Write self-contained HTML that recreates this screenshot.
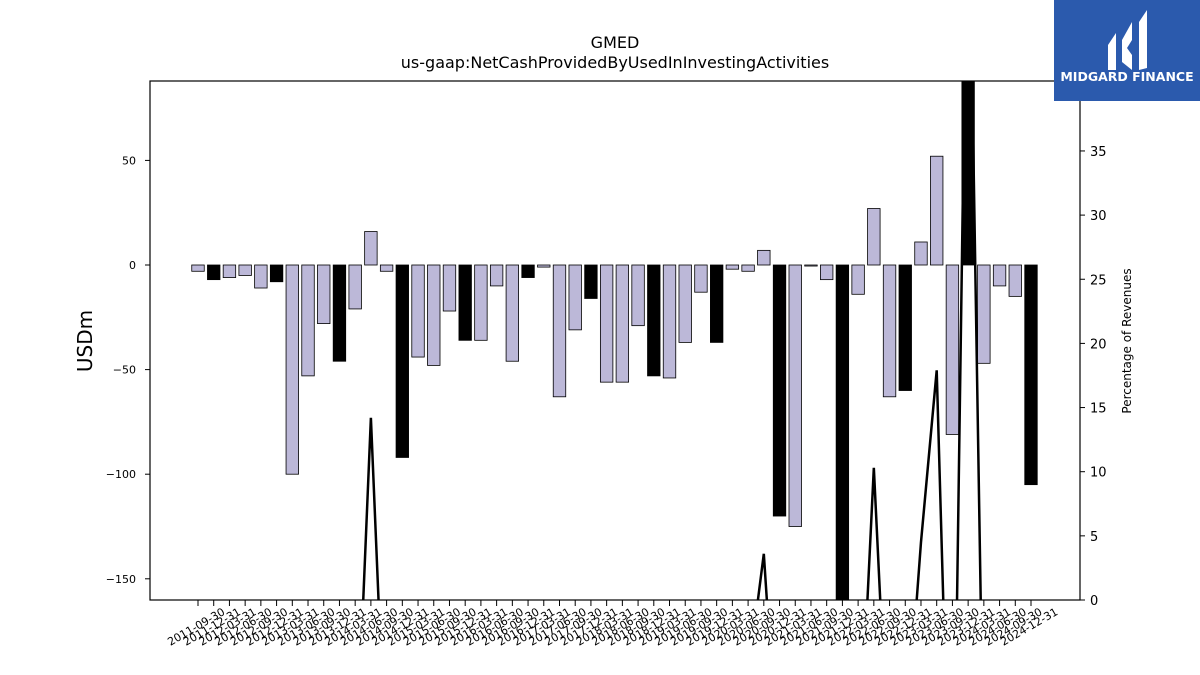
<!DOCTYPE html>
<html><head><meta charset="utf-8"><style>
html,body{margin:0;background:#fff;width:1200px;height:675px;overflow:hidden;font-family:"DejaVu Sans","Liberation Sans",sans-serif}
svg{display:block}
</style></head><body>
<svg id="chart" width="1200" height="675" xmlns="http://www.w3.org/2000/svg" font-family="DejaVu Sans, Liberation Sans, sans-serif">
<defs><clipPath id="pc"><rect x="150" y="81" width="930" height="519"/></clipPath></defs>
<text x="615" y="48" text-anchor="middle" font-size="16">GMED</text>
<text x="615" y="68" text-anchor="middle" font-size="16">us-gaap:NetCashProvidedByUsedInInvestingActivities</text>
<g id="bars" clip-path="url(#pc)"></g>
<g id="line" clip-path="url(#pc)"></g>
<rect x="150" y="81" width="930" height="519" fill="none" stroke="#000" stroke-width="1.2"/>
<g id="yleft"></g><g id="yright"></g><g id="xaxis"></g>
<text transform="translate(92,341) rotate(-90)" text-anchor="middle" font-size="20">USDm</text>
<text transform="translate(1131,341) rotate(-90)" text-anchor="middle" font-size="12">Percentage of Revenues</text>
<g>
<rect x="1054" y="0" width="146" height="101" fill="#2b5aad"/>
<path d="M1108 45 L1116 33 L1116 70 L1108 70 Z M1122 40 L1132 22 L1132 40 L1127 48 L1132 55 L1132 70 L1122 62 Z M1139 22 L1147 10 L1147 68 L1139 70 Z" fill="#fff"/>
<text x="1127" y="81" text-anchor="middle" font-size="12.5" font-weight="bold" fill="#fff">MIDGARD FINANCE</text>
</g>
</svg>
<script>
const dates=["2011-09-30","2011-12-31","2012-03-31","2012-06-30","2012-09-30","2012-12-31","2013-03-31","2013-06-30","2013-09-30","2013-12-31","2014-03-31","2014-06-30","2014-09-30","2014-12-31","2015-03-31","2015-06-30","2015-09-30","2015-12-31","2016-03-31","2016-06-30","2016-09-30","2016-12-31","2017-03-31","2017-06-30","2017-09-30","2017-12-31","2018-03-31","2018-06-30","2018-09-30","2018-12-31","2019-03-31","2019-06-30","2019-09-30","2019-12-31","2020-03-31","2020-06-30","2020-09-30","2020-12-31","2021-03-31","2021-06-30","2021-09-30","2021-12-31","2022-03-31","2022-06-30","2022-09-30","2022-12-31","2023-03-31","2023-06-30","2023-09-30","2023-12-31","2024-03-31","2024-06-30","2024-09-30","2024-12-31"];
const cashValues=[-3,-7,-6,-5,-11,-8,-100,-53,-28,-46,-21,16,-3,-92,-44,-48,-22,-36,-36,-10,-46,-6,-1,-63,-31,-16,-56,-56,-29,-53,-54,-37,-13,-37,-2,-3,7,-120,-125,-0.5,-7,-200,-14,27,-63,-60,11,52,-81,120,-47,-10,-15,-105];
const pctValues=[-15,-15,-15,-15,-15,-15,-15,-15,-15,-15,-15,14.2,-15,-15,-15,-15,-15,-15,-15,-15,-15,-15,-15,-15,-15,-15,-15,-15,-15,-15,-15,-15,-15,-15,-15,-6,3.6,-15,-15,-15,-15,-15,-15,10.3,-15,-12,4.5,17.9,-25,60,-15,-15,-15,-15];
const leftTicks=[50,0,-50,-100,-150];
const rightTicks=[0,5,10,15,20,25,30,35];
const NS="http://www.w3.org/2000/svg";
function el(t,a,p){const e=document.createElementNS(NS,t);for(const k in a)e.setAttribute(k,a[k]);p.appendChild(e);return e;}
const x=i=>198+i*(1031-198)/53;
const yL=v=>265-v*2.092;
const yR=v=>600-v*12.83;
const bw=12.5;
const gb=document.getElementById('bars');
cashValues.forEach((v,i)=>{
 const r=el('rect',{x:x(i)-bw/2,y:Math.min(yL(v),yL(0)),width:bw,height:Math.abs(yL(v)-yL(0)),fill:i%4==1?'#000':'#bcb8d8',stroke:'#000','stroke-width':0.8},gb);
 
 
});
const pl=el('polyline',{points:pctValues.map((v,i)=>x(i)+','+yR(v)).join(' '),fill:'none',stroke:'#000','stroke-width':2.5},document.getElementById('line'));


const gl=document.getElementById('yleft');
leftTicks.forEach(v=>{
 el('line',{x1:145,x2:150,y1:yL(v),y2:yL(v),stroke:'#000'},gl);
 const t=el('text',{x:136,y:yL(v)+4,'text-anchor':'end','font-size':11},gl);t.textContent=v<0?'\u2212'+(-v):v;
 
 
});
const gr=document.getElementById('yright');
rightTicks.forEach(v=>{
 el('line',{x1:1080,x2:1085,y1:yR(v),y2:yR(v),stroke:'#000'},gr);
 const t=el('text',{x:1090,y:yR(v)+5,'font-size':13},gr);t.textContent=v;
 
 
});
const gx=document.getElementById('xaxis');
dates.forEach((d,i)=>{
 el('line',{x1:x(i),x2:x(i),y1:600,y2:606,stroke:'#000'},gx);
 const t=el('text',{transform:`translate(${x(i)},${630}) rotate(-30)`,'text-anchor':'middle','font-size':11},gx);t.textContent=d;
 
 
});
</script>
</body></html>
